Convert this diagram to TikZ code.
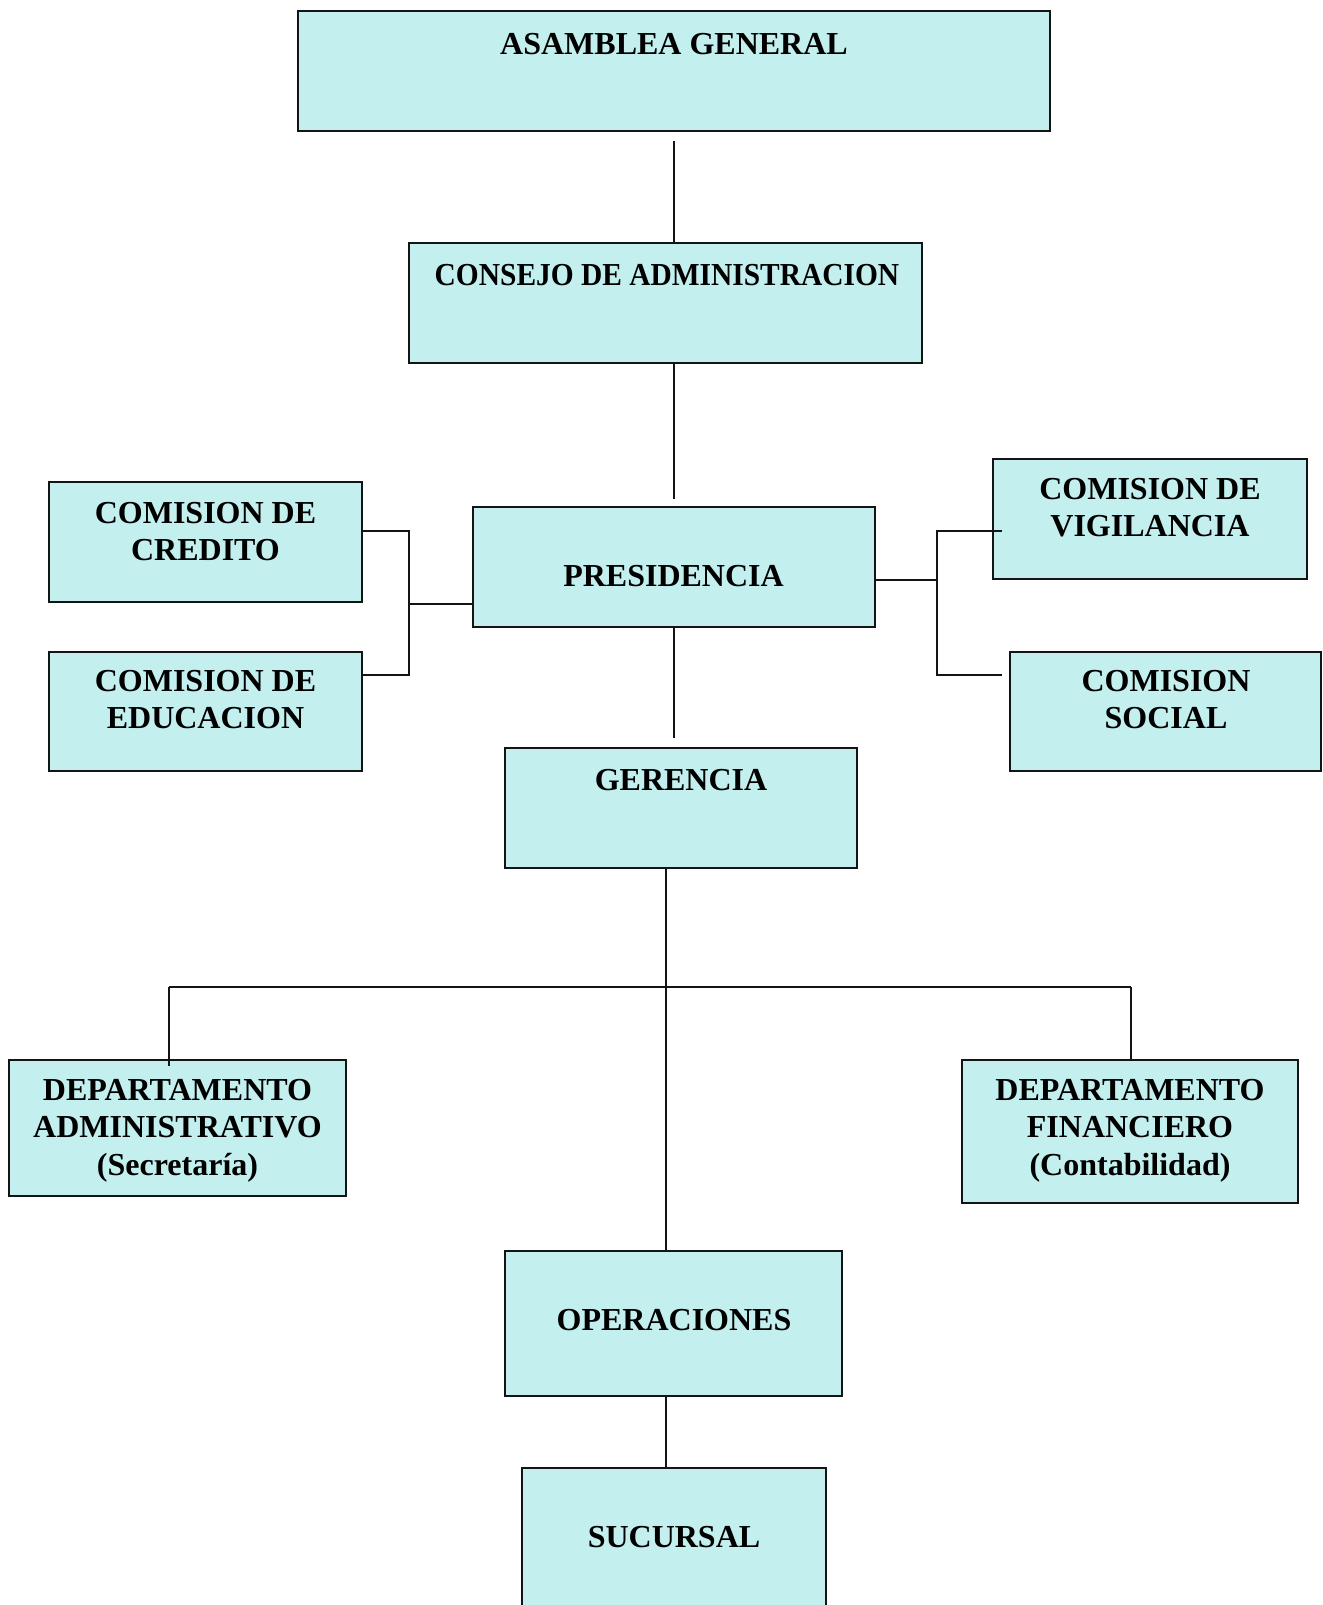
\documentclass[tikz,border=0pt]{standalone}
\usepackage{fontspec}
\usepackage{graphicx}
\setmainfont{Liberation Serif}
\usetikzlibrary{calc}
\definecolor{boxfill}{RGB}{195,239,238}
\definecolor{inkline}{RGB}{20,20,20}
\begin{document}
\begin{tikzpicture}[x=1pt,y=-1pt,
  orgbox/.style={draw=inkline,fill=boxfill,line width=1.8pt,inner sep=0pt,
    minimum width=#1},
  boxtext/.style={anchor=north,inner sep=0pt,align=center,
    font=\fontsize{32}{37.5}\selectfont\bfseries},
  link/.style={draw=inkline,line width=1.8pt}]
\useasboundingbox (0,0) rectangle (1322,1605);
\begin{scope}
\clip (0,0) rectangle (1322,1605);

% boxes
\node[orgbox=752pt,minimum height=120pt] (asamblea) at (674,71) {};
\node[orgbox=513pt,minimum height=120pt] (consejo) at (665.5,303) {};
\node[orgbox=402pt,minimum height=120pt] (presidencia) at (674,567) {};
\node[orgbox=313pt,minimum height=120pt] (credito) at (205.5,542) {};
\node[orgbox=313pt,minimum height=119pt] (educacion) at (205.5,711.5) {};
\node[orgbox=314pt,minimum height=120pt] (vigilancia) at (1150,519) {};
\node[orgbox=311pt,minimum height=119pt] (social) at (1165.5,711.5) {};
\node[orgbox=352pt,minimum height=120pt] (gerencia) at (681,808) {};
\node[orgbox=337pt,minimum height=136pt] (admin) at (177.5,1128) {};
\node[orgbox=336pt,minimum height=143pt] (financiero) at (1130,1131.5) {};
\node[orgbox=337pt,minimum height=145pt] (operaciones) at (673.5,1323.5) {};
\node[orgbox=304pt,minimum height=182pt] (sucursal) at (674,1559) {};

% labels
\node[boxtext] (t-asamblea) at (674,33) {ASAMBLEA GENERAL};
\node[boxtext] (t-consejo) at (667,264) {\scalebox{0.92}[1]{CONSEJO DE ADMINISTRACION}};
\node[boxtext] (t-presidencia) at (673.5,565) {PRESIDENCIA};
\node[boxtext] (t-credito) at (205.5,502) {COMISION DE\\CREDITO};
\node[boxtext] (t-educacion) at (205.5,670) {COMISION DE\\EDUCACION};
\node[boxtext] (t-vigilancia) at (1150,478) {COMISION DE\\VIGILANCIA};
\node[boxtext] (t-social) at (1166,670) {COMISION\\SOCIAL};
\node[boxtext] (t-gerencia) at (681,769) {GERENCIA};
\node[boxtext] (t-admin) at (177.5,1079) {DEPARTAMENTO\\ADMINISTRATIVO\\(Secretaría)};
\node[boxtext] (t-financiero) at (1130,1079) {DEPARTAMENTO\\FINANCIERO\\(Contabilidad)};
\node[boxtext] (t-operaciones) at (674,1309) {OPERACIONES};
\node[boxtext] (t-sucursal) at (674,1526) {SUCURSAL};

% junction points
\coordinate (jl) at (409,604);
\coordinate (jl1) at (409,531);
\coordinate (jl2) at (409,675);
\coordinate (jr) at (937,580);
\coordinate (jr1) at (937,531);
\coordinate (jr2) at (937,675);
\coordinate (jb) at (666,987);
\coordinate (bl) at (169,987);
\coordinate (br) at (1131,987);

% main vertical chain
\draw[link] ($(asamblea.south)+(0,9)$) -- (asamblea.south |- consejo.north);
\draw[link] (presidencia.north |- consejo.south) -- ($(presidencia.north)+(0,-7)$);
\draw[link] (presidencia.south) -- ($(presidencia.south |- gerencia.north)+(0,-9)$);

% committees on the left
\draw[link] (credito.east |- jl1) -- (jl1) -- (jl2) -- (educacion.east |- jl2);
\draw[link] (jl) -- (presidencia.west |- jl);

% committees on the right
\draw[link] (presidencia.east |- jr) -- (jr);
\draw[link] ($(vigilancia.west |- jr1)+(10,0)$) -- (jr1) -- (jr2)
  -- ($(social.west |- jr2)+(-7,0)$);

% management and departments
\draw[link] (gerencia.south -| jb) -- (operaciones.north -| jb);
\draw[link] (bl) -- (br);
\draw[link] (bl) -- ($(admin.north -| bl)+(0,7)$);
\draw[link] (br) -- (financiero.north -| br);
\draw[link] (operaciones.south -| jb) -- (sucursal.north -| jb);
\end{scope}
\end{tikzpicture}
\end{document}
